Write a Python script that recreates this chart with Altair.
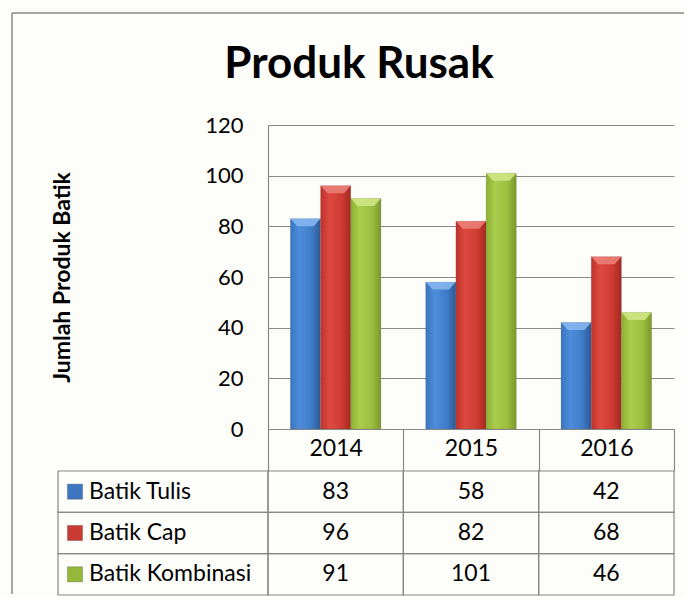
import altair as alt
import pandas as pd

# ---- data ----
YEARS = ["2014", "2015", "2016"]
SERIES = ["Batik Tulis", "Batik Cap", "Batik Kombinasi"]
BATIK_TULIS = [83, 58, 42]
BATIK_CAP = [96, 82, 68]
BATIK_KOMBINASI = [91, 101, 46]
Y_TICKS = [0, 20, 40, 60, 80, 100, 120]
TITLE = "Produk Rusak"
Y_TITLE = "Jumlah Produk Batik"

rows = []
for s, vals in zip(SERIES, [BATIK_TULIS, BATIK_CAP, BATIK_KOMBINASI]):
    for yr, v in zip(YEARS, vals):
        rows.append({"year": yr, "series": s, "value": v})
df = pd.DataFrame(rows)

# ---- styles ----
FONT = "Lato"
GRID = "#888888"
BG = "#fdfdfa"
GRAD = {
    "Batik Tulis": ["#3a74bf", "#4d8ddb", "#3f7cc8", "#2b5a97"],
    "Batik Cap": ["#bd322b", "#de4a40", "#cf3b33", "#a2291f"],
    "Batik Kombinasi": ["#8cae33", "#a9cd4c", "#9bbf3f", "#7a982a"],
}
BEVEL = {"Batik Tulis": "#86b6ee", "Batik Cap": "#eb8077", "Batik Kombinasi": "#cfe685"}
SWATCH = ["#3d76c0", "#c93a33", "#93b83a"]

x_enc = alt.X(
    "year:N", sort=YEARS,
    scale=alt.Scale(domain=YEARS, paddingInner=0, paddingOuter=0),
    axis=alt.Axis(title=None, labelAngle=0, tickBand="extent", tickSize=42,
                  tickColor=GRID, tickWidth=1.2, domainColor=GRID, domainWidth=1.2,
                  labelFont=FONT, labelFontSize=23,
                  labelColor="black", labelPadding=-34, grid=False),
)
xoff = alt.XOffset("series:N", sort=SERIES,
                   scale=alt.Scale(domain=SERIES, paddingOuter=0.74, paddingInner=0))
y_enc = alt.Y(
    "value:Q", scale=alt.Scale(domain=[0, 120], nice=False),
    axis=alt.Axis(values=Y_TICKS, title=Y_TITLE, ticks=False, tickSize=0,
                  labelPadding=25, labelFont=FONT, labelFontSize=22, labelColor="black",
                  domainColor=GRID, domainWidth=1.2, gridColor=GRID, gridWidth=1.2,
                  titleFont=FONT, titleFontSize=23, titleFontWeight="bold",
                  titleColor="black", titlePadding=130),
)

layers = []
for s in SERIES:
    stops = GRAD[s]
    grad = alt.Gradient(
        gradient="linear",
        stops=[alt.GradientStop(color=stops[0], offset=0),
               alt.GradientStop(color=stops[1], offset=0.3),
               alt.GradientStop(color=stops[2], offset=0.7),
               alt.GradientStop(color=stops[3], offset=1)],
        x1=0, x2=1, y1=0, y2=0,
    )
    base = alt.Chart(df).transform_filter(alt.datum.series == s)
    layers.append(base.mark_bar(color=grad, stroke="#5a5a5a", strokeOpacity=0.35,
                                strokeWidth=0.5).encode(x=x_enc, xOffset=xoff, y=y_enc))
    layers.append(base.mark_point(
        shape="M-1,0L1,0L0.55,0.5L-0.55,0.5Z", size=900, filled=True,
        color=BEVEL[s], opacity=0.9).encode(x=x_enc, xOffset=xoff, y=y_enc))

top_rule = alt.Chart(pd.DataFrame({"a": [1]})).mark_rule(color=GRID, strokeWidth=1.5).encode(
    x=alt.value(-256), x2=alt.value(416), y=alt.value(-112), y2=alt.value(-112))
left_rule = alt.Chart(pd.DataFrame({"b": [2]})).mark_rule(color=GRID, strokeWidth=1.5).encode(
    x=alt.value(-256), x2=alt.value(-256), y=alt.value(-112), y2=alt.value(469))
title_txt = alt.Chart(pd.DataFrame({"t": [TITLE]})).mark_text(
    font=FONT, fontSize=44, fontWeight="bold", color="black",
    align="center", baseline="alphabetic").encode(
    x=alt.value(91), y=alt.value(-47), text="t:N")

bars = alt.layer(*layers, top_rule, left_rule, title_txt).properties(width=406, height=304)

# ---- table ----
tx = alt.X("year:N", sort=YEARS, scale=alt.Scale(domain=YEARS, paddingInner=0, paddingOuter=0),
           axis=None)
ty = alt.Y("series:N", sort=SERIES, scale=alt.Scale(domain=SERIES, paddingInner=0, paddingOuter=0),
           axis=None)
cells = alt.Chart(df).mark_rect(fill="transparent", stroke=GRID, strokeWidth=1.2).encode(x=tx, y=ty)
vals = alt.Chart(df).mark_text(font=FONT, fontSize=23, color="black").encode(
    x=tx, y=ty, text="value:Q")
sdf = pd.DataFrame({"series": SERIES})
lab_cells = alt.Chart(sdf).mark_rect(fill="transparent", stroke=GRID, strokeWidth=1.2).encode(
    x=alt.value(-210), x2=alt.value(0), y=ty)
lab_txt = alt.Chart(sdf).mark_text(font=FONT, fontSize=23, color="black", align="left").encode(
    x=alt.value(-179), y=ty, text="series:N")
swatch = alt.Chart(sdf).mark_point(shape="square", filled=True, size=230, opacity=1,
                                   stroke="#444444", strokeWidth=0.3).encode(
    x=alt.value(-193), y=ty,
    color=alt.Color("series:N", scale=alt.Scale(domain=SERIES, range=SWATCH), legend=None))
table = alt.layer(cells, vals, lab_cells, lab_txt, swatch).properties(width=406, height=124)

chart = alt.vconcat(bars, table, spacing=42, bounds="flush").properties(
    padding={"left": 11, "top": 12, "right": 0, "bottom": 0},
    background=BG,
).configure_view(stroke=None)

chart.save("out.html", embed_options={"renderer": "svg", "actions": False})
